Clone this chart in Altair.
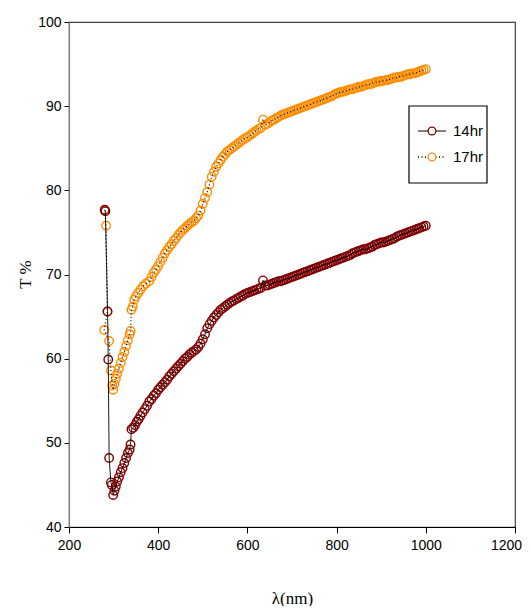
import altair as alt
import pandas as pd

series_names = ["14hr", "17hr"]
series_colors = ["#800000", "#FF8C00"]

# 14hr: absorption-edge region (measurement order) then main spectrum
wl_14_edge = [280, 281.5, 286.5, 288, 290, 294, 296, 299, 302, 305, 308, 312, 316,
              320, 324, 328, 332, 336, 338, 340, 344, 348, 352, 356, 360, 365, 370,
              375]
t_14_edge = [77.7, 77.5, 65.6, 59.9, 48.2, 45.3, 45.0, 43.8, 44.3, 44.8, 45.4,
             45.9, 46.5, 47.0, 47.6, 48.2, 48.8, 49.2, 49.8, 51.6, 51.8, 52.1, 52.5,
             52.8, 53.2, 53.6, 54.0, 54.4]

wl_main = [380, 385, 390, 395, 400, 405, 410, 415, 420, 425, 430, 435, 440, 445,
           450, 455, 460, 465, 470, 475, 480, 485, 490, 495, 500, 505, 510, 515,
           520, 525, 530, 535, 540, 545, 550, 555, 560, 565, 570, 575, 580, 585,
           590, 595, 600, 605, 610, 615, 620, 625, 630, 635, 640, 645, 650, 655,
           660, 665, 670, 675, 680, 685, 690, 695, 700, 705, 710, 715, 720, 725,
           730, 735, 740, 745, 750, 755, 760, 765, 770, 775, 780, 785, 790, 795,
           800, 805, 810, 815, 820, 825, 830, 835, 840, 845, 850, 855, 860, 865,
           870, 875, 880, 885, 890, 895, 900, 905, 910, 915, 920, 925, 930, 935,
           940, 945, 950, 955, 960, 965, 970, 975, 980, 985, 990, 995, 1000]

t_14_main = [54.9, 55.2, 55.6, 55.9, 56.3, 56.6, 56.9, 57.2, 57.5, 57.9, 58.2, 58.5,
             58.8, 59.1, 59.4, 59.7, 60.0, 60.2, 60.5, 60.7, 60.9, 61.1, 61.4, 61.8,
             62.3, 62.9, 63.6, 64.1, 64.5, 64.9, 65.2, 65.5, 65.8, 66.0, 66.2, 66.4,
             66.6, 66.8, 66.9, 67.1, 67.2, 67.4, 67.5, 67.7, 67.8, 67.9, 68.0, 68.1,
             68.2, 68.3, 68.4, 69.3, 68.7, 68.7, 68.8, 68.9, 69.0, 69.1, 69.2, 69.2,
             69.3, 69.4, 69.5, 69.6, 69.7, 69.8, 69.9, 70.0, 70.1, 70.2, 70.3, 70.4,
             70.5, 70.6, 70.7, 70.8, 70.9, 71.0, 71.1, 71.2, 71.3, 71.4, 71.5, 71.6,
             71.7, 71.8, 71.9, 72.0, 72.1, 72.2, 72.3, 72.5, 72.6, 72.7, 72.8, 72.9,
             73.0, 73.0, 73.1, 73.2, 73.3, 73.5, 73.6, 73.7, 73.8, 73.8, 73.9, 74.0,
             74.1, 74.2, 74.3, 74.5, 74.6, 74.7, 74.8, 74.9, 75.0, 75.1, 75.2, 75.3,
             75.4, 75.5, 75.6, 75.7, 75.8]

# 17hr: absorption-edge region (measurement order) then main spectrum
wl_17_edge = [281, 283, 286, 279, 290, 294, 297, 299, 302, 305, 308, 312, 316, 320,
              324, 328, 332, 336, 338, 340, 343, 346, 350, 355, 360, 366, 372]
t_17_edge = [77.6, 75.8, 65.6, 63.4, 62.1, 58.6, 56.8, 56.3, 57.0, 57.6, 58.2, 58.8,
             59.5, 60.2, 60.8, 61.5, 62.2, 62.9, 63.3, 65.8, 66.2, 67.0, 67.4, 67.8,
             68.2, 68.6, 68.9]

t_17_main = [69.2, 69.7, 70.2, 70.6, 71.0, 71.5, 72.0, 72.5, 72.9, 73.3, 73.6, 74.0,
             74.3, 74.7, 75.0, 75.3, 75.5, 75.8, 76.0, 76.2, 76.4, 76.7, 77.0, 77.6,
             78.4, 79.1, 79.8, 80.7, 81.6, 82.2, 82.8, 83.2, 83.6, 84.0, 84.3, 84.6,
             84.8, 85.0, 85.2, 85.4, 85.6, 85.8, 86.0, 86.2, 86.3, 86.5, 86.7, 86.9,
             87.1, 87.3, 87.4, 88.4, 87.8, 87.9, 88.1, 88.3, 88.4, 88.6, 88.7, 88.9,
             89.0, 89.1, 89.2, 89.3, 89.4, 89.5, 89.6, 89.7, 89.8, 89.9, 90.0, 90.1,
             90.2, 90.3, 90.4, 90.5, 90.6, 90.7, 90.8, 90.9, 91.0, 91.1, 91.2, 91.4,
             91.5, 91.6, 91.7, 91.7, 91.8, 91.9, 92.0, 92.0, 92.1, 92.2, 92.3, 92.3,
             92.4, 92.5, 92.6, 92.6, 92.7, 92.8, 92.9, 92.9, 93.0, 93.0, 93.1, 93.1,
             93.2, 93.3, 93.4, 93.4, 93.5, 93.5, 93.6, 93.7, 93.8, 93.8, 93.9, 93.9,
             94.0, 94.1, 94.2, 94.3, 94.4]

x_ticks = [200, 400, 600, 800, 1000, 1200]
y_ticks = [40, 50, 60, 70, 80, 90, 100]

LABEL_FONT = "'Liberation Sans Narrow', 'Arial Narrow', 'Liberation Sans', sans-serif"

rows = []
for name, wl, t in ((series_names[0], wl_14_edge + wl_main, t_14_edge + t_14_main),
                    (series_names[1], wl_17_edge + wl_main, t_17_edge + t_17_main)):
    for i, (a, b) in enumerate(zip(wl, t)):
        rows.append({"series": name, "idx": i, "wl": a, "T": b})
df = pd.DataFrame(rows)

x_enc = alt.X("wl:Q", scale=alt.Scale(domain=[200, 1200], nice=False, zero=False),
              axis=alt.Axis(values=x_ticks, format="d", title="λ(nm)", grid=False,
                            tickSize=6, labelPadding=5, labelFlush=False,
                            labelOffset={"condition": {"test": "datum.value == 1200",
                                                       "value": -9},
                                         "value": 0},
                            domainColor="#000000", tickColor="#000000",
                            titleY=76, titleBaseline="alphabetic"))
y_enc = alt.Y("T:Q", scale=alt.Scale(domain=[40, 100], nice=False, zero=False),
              axis=alt.Axis(values=y_ticks, format="d", title="T %", grid=False,
                            tickSize=5, labelPadding=3, labelFlush=False,
                            domainColor="#808080", tickColor="#000000",
                            titleX=-44, titleY=252, titleAngle=270,
                            titleAlign="center", titleBaseline="middle"))

base = alt.Chart(df)
layers = []
for name, col in ((series_names[1], series_colors[1]), (series_names[0], series_colors[0])):
    layers.append(
        base.transform_filter(alt.datum.series == name)
        .mark_point(shape="circle", filled=False, size=72, strokeWidth=1.4, opacity=1)
        .encode(x=x_enc, y=y_enc, color=alt.value(col), order=alt.Order("idx:Q"))
    )
layers.append(
    base.transform_filter(alt.datum.series == series_names[0])
    .mark_line(color="black", strokeWidth=0.9)
    .encode(x=x_enc, y=y_enc, order=alt.Order("idx:Q"))
)
layers.append(
    base.transform_filter(alt.datum.series == series_names[1])
    .mark_line(color="black", strokeWidth=1.2, strokeDash=[1, 2.5])
    .encode(x=x_enc, y=y_enc, order=alt.Order("idx:Q"))
)

# legend box
one = pd.DataFrame({"k": [0]})
layers.append(
    alt.Chart(one).mark_rect(fill="white", stroke="black", strokeWidth=1.2).encode(
        x=alt.value(340), x2=alt.value(418), y=alt.value(84), y2=alt.value(161))
)
for i, (name, col) in enumerate(zip(series_names, series_colors)):
    yy = 109 + 26 * i
    layers.append(
        alt.Chart(one).mark_rule(color="black", strokeWidth=1.2 if i == 0 else 1.4,
                                 strokeDash=[1, 0] if i == 0 else [1, 2.5]).encode(
            x=alt.value(349), x2=alt.value(377), y=alt.value(yy))
    )
    layers.append(
        alt.Chart(one).mark_point(shape="circle", filled=True, fill="white", color=col,
                                  stroke=col, size=60, strokeWidth=1.3, opacity=1).encode(
            x=alt.value(363), y=alt.value(yy))
    )
    layers.append(
        alt.Chart(one).mark_text(text=name, align="left", baseline="middle",
                                 font=LABEL_FONT, fontSize=15, color="black").encode(
            x=alt.value(384), y=alt.value(yy))
    )

chart = alt.layer(*layers).properties(
    width=446, height=505,
    autosize=alt.AutoSizeParams(type="none"),
    padding={"left": 61, "top": 14, "right": 8, "bottom": 79},
).configure_view(stroke="#404040", strokeWidth=1.2).configure_axis(
    labelFont=LABEL_FONT, labelFontSize=14, labelColor="black",
    titleFont="Liberation Serif", titleFontSize=17, titleFontWeight="normal",
    titleColor="black", domainWidth=1.2,
)

chart.save("out.html", embed_options={"renderer": "svg", "actions": False})
